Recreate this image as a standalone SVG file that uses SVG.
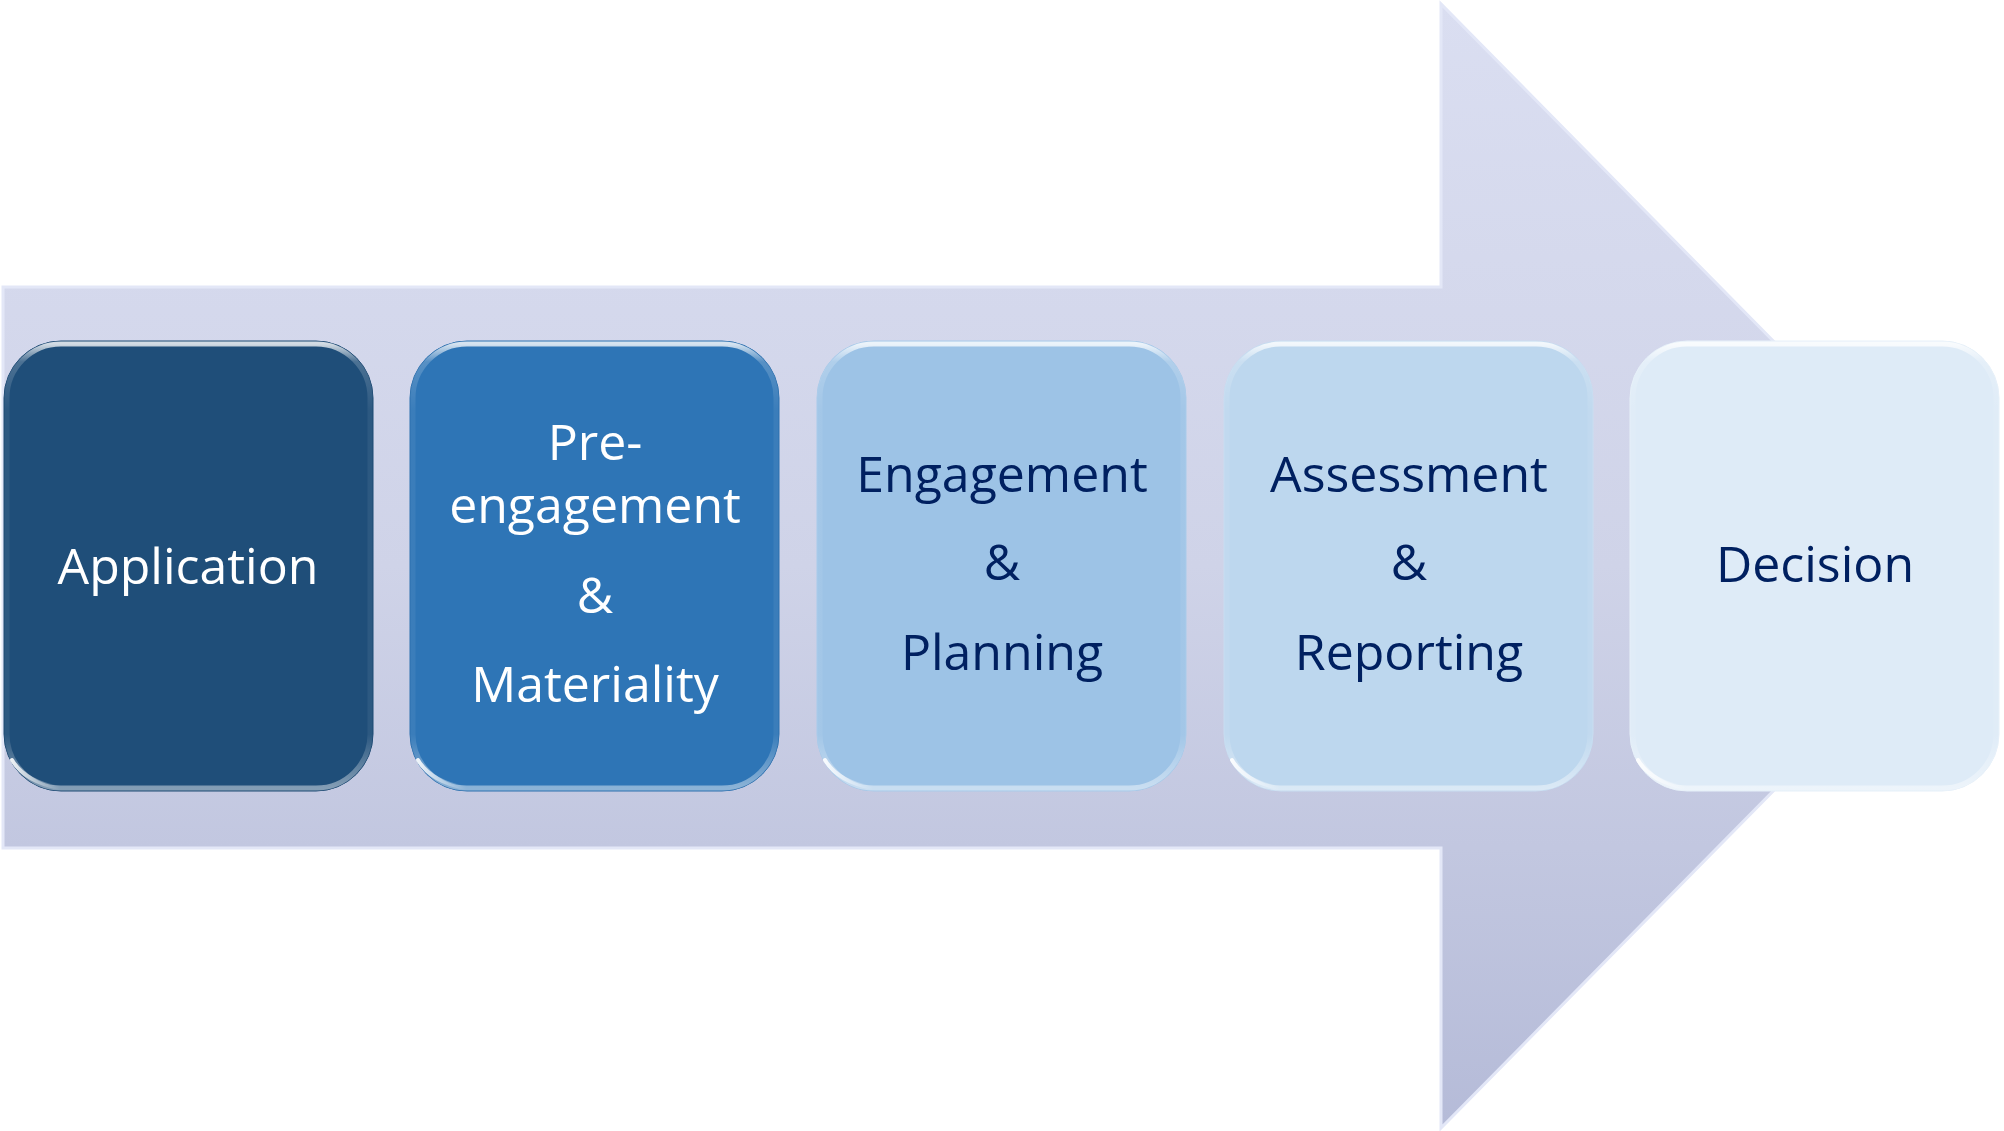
<svg xmlns="http://www.w3.org/2000/svg" width="2004" height="1131" viewBox="0 0 2004 1131">
  <defs>
    <linearGradient id="arrowFill" x1="0" y1="0" x2="0" y2="1">
      <stop offset="0" stop-color="#DADEF1"/>
      <stop offset="0.5" stop-color="#CFD3E8"/>
      <stop offset="1" stop-color="#B5BBD8"/>
    </linearGradient>
    <linearGradient id="bevel" x1="0" y1="0" x2="0" y2="1">
      <stop offset="0" stop-color="#FFFFFF" stop-opacity="0.8"/>
      <stop offset="0.04" stop-color="#FFFFFF" stop-opacity="0.2"/>
      <stop offset="0.15" stop-color="#FFFFFF" stop-opacity="0.06"/>
      <stop offset="0.88" stop-color="#FFFFFF" stop-opacity="0.06"/>
      <stop offset="1" stop-color="#FFFFFF" stop-opacity="0.45"/>
    </linearGradient>
    <linearGradient id="glint" x1="0" y1="0" x2="1" y2="0">
      <stop offset="0" stop-color="#FFFFFF" stop-opacity="0.9"/>
      <stop offset="1" stop-color="#FFFFFF" stop-opacity="0"/>
    </linearGradient>
  </defs>
  <style>
    .box { stroke-width: 1; }
    .bev { fill: none; stroke: url(#bevel); stroke-width: 5; }
    .gl { fill: none; stroke: url(#glint); stroke-width: 4; stroke-linecap: round; }
    .t { font-family: "Open Sans", "Noto Sans", "Liberation Sans", sans-serif; font-size: 50px; text-anchor: middle; }
    .w { fill: #FFFFFF; }
    .d { fill: #002060; }
  </style>

  <g id="arrow">
    <path d="M3 287 L1441 287 L1441 4 L1995 566 L1441 1128 L1441 848 L3 848 Z" fill="url(#arrowFill)" stroke="#E3E7F7" stroke-width="3" stroke-linejoin="miter"/>
  </g>

  <g id="connectors"></g>

  <g id="application">
    <rect class="box" x="4" y="341" width="369" height="450" rx="57" fill="#1F4E79" stroke="#1D4A73"/>
    <rect class="bev" x="7" y="344" width="363" height="444" rx="54"/>
    <path class="gl" d="M12 760 Q25 782 60 788"/>
    <text class="t w" x="188" y="584">Application</text>
  </g>

  <g id="pre-engagement">
    <rect class="box" x="410" y="341" width="369" height="450" rx="57" fill="#2E75B6" stroke="#2C70AE"/>
    <rect class="bev" x="413" y="344" width="363" height="444" rx="54"/>
    <path class="gl" d="M418 760 Q431 782 466 788"/>
    <text class="t w" x="595" y="460">Pre-</text>
    <text class="t w" x="595" y="523">engagement</text>
    <text class="t w" x="595" y="613">&amp;</text>
    <text class="t w" x="595" y="702">Materiality</text>
  </g>

  <g id="engagement">
    <rect class="box" x="817" y="341" width="369" height="450" rx="57" fill="#9DC3E6" stroke="#A9CBEA"/>
    <rect class="bev" x="820" y="344" width="363" height="444" rx="54"/>
    <path class="gl" d="M825 760 Q838 782 873 788"/>
    <text class="t d" x="1002" y="492">Engagement</text>
    <text class="t d" x="1002" y="580">&amp;</text>
    <text class="t d" x="1002" y="670">Planning</text>
  </g>

  <g id="assessment">
    <rect class="box" x="1224" y="341" width="369" height="450" rx="57" fill="#BDD7EE" stroke="#C8DDF1"/>
    <rect class="bev" x="1227" y="344" width="363" height="444" rx="54"/>
    <path class="gl" d="M1232 760 Q1245 782 1280 788"/>
    <text class="t d" x="1409" y="492">Assessment</text>
    <text class="t d" x="1409" y="580">&amp;</text>
    <text class="t d" x="1409" y="670">Reporting</text>
  </g>

  <g id="decision">
    <rect class="box" x="1630" y="341" width="369" height="450" rx="57" fill="#DEEBF7" stroke="#E6F0F9"/>
    <rect class="bev" x="1633" y="344" width="363" height="444" rx="54"/>
    <path class="gl" d="M1638 760 Q1651 782 1686 788"/>
    <text class="t d" x="1815" y="582">Decision</text>
  </g>
</svg>
